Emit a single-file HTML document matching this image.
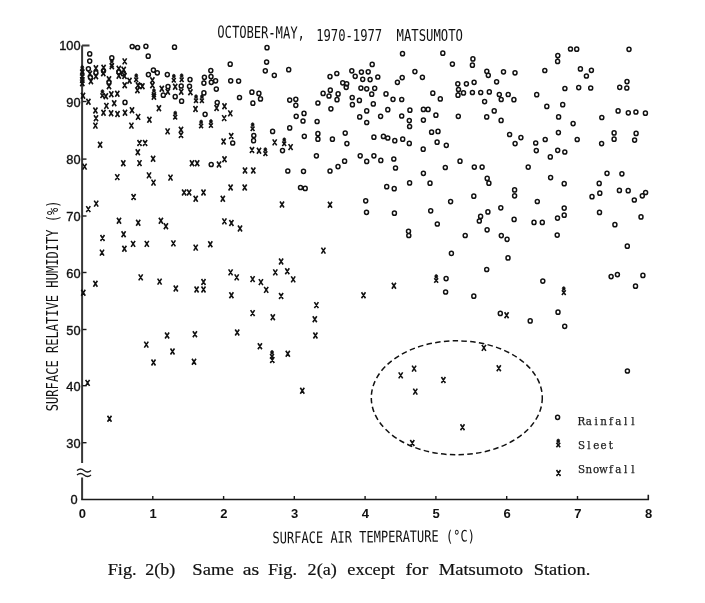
<!DOCTYPE html><html><head><meta charset="utf-8"><title>Fig. 2(b)</title><style>html,body{margin:0;padding:0;background:#fff;width:705px;height:603px;overflow:hidden}svg{display:block}.t{font-family:"Liberation Sans",sans-serif;fill:#111}.d{font-family:"DejaVu Sans Mono",monospace;fill:#111}.m{font-family:"DejaVu Serif",serif;fill:#222}.s{font-family:"Liberation Serif",serif;fill:#111}</style></head><body><svg width="705" height="603" viewBox="0 0 705 603"><g stroke="#1a1a1a" stroke-width="1.6" fill="none"><path d="M82.1 45.5 H89.5 M82.1 45.5 V463 M82.1 477.5 V499.5" stroke="#383838" stroke-width="2"/><path d="M81.2 499.5 H648.3 V494.8"/><path d="M82.5 101.5 h4" stroke-width="1.4"/><path d="M82.5 159.1 h4" stroke-width="1.4"/><path d="M82.5 216.0 h4" stroke-width="1.4"/><path d="M82.5 272.5 h4" stroke-width="1.4"/><path d="M82.5 329.5 h4" stroke-width="1.4"/><path d="M82.5 385.7 h4" stroke-width="1.4"/><path d="M82.5 442.7 h4" stroke-width="1.4"/><path d="M152.8 499.5 v-3.5" stroke-width="1.4"/><path d="M223.6 499.5 v-3.5" stroke-width="1.4"/><path d="M294.3 499.5 v-3.5" stroke-width="1.4"/><path d="M365.1 499.5 v-3.5" stroke-width="1.4"/><path d="M435.9 499.5 v-3.5" stroke-width="1.4"/><path d="M506.7 499.5 v-3.5" stroke-width="1.4"/><path d="M577.5 499.5 v-3.5" stroke-width="1.4"/><path d="M77 470.5 q3.5 -3 7 0 t7 0 M77 475 q3.5 -3 7 0 t7 0" stroke-width="1.3"/></g><text class="t" x="80.6" y="49.8" font-size="12.8" text-anchor="end" stroke="#111" stroke-width="0.35">100</text><text class="t" x="80.6" y="106.5" font-size="12.8" text-anchor="end" stroke="#111" stroke-width="0.35">90</text><text class="t" x="80.6" y="164.1" font-size="12.8" text-anchor="end" stroke="#111" stroke-width="0.35">80</text><text class="t" x="80.6" y="221.0" font-size="12.8" text-anchor="end" stroke="#111" stroke-width="0.35">70</text><text class="t" x="80.6" y="277.5" font-size="12.8" text-anchor="end" stroke="#111" stroke-width="0.35">60</text><text class="t" x="80.6" y="334.5" font-size="12.8" text-anchor="end" stroke="#111" stroke-width="0.35">50</text><text class="t" x="80.6" y="390.7" font-size="12.8" text-anchor="end" stroke="#111" stroke-width="0.35">40</text><text class="t" x="80.6" y="447.7" font-size="12.8" text-anchor="end" stroke="#111" stroke-width="0.35">30</text><text class="t" x="77.6" y="504" font-size="12.8" text-anchor="end" stroke="#111" stroke-width="0.35">0</text><text class="t" x="82.3" y="518.3" font-size="13" font-weight="bold" text-anchor="middle">0</text><text class="t" x="153.1" y="518.3" font-size="13" font-weight="bold" text-anchor="middle">1</text><text class="t" x="223.9" y="518.3" font-size="13" font-weight="bold" text-anchor="middle">2</text><text class="t" x="294.6" y="518.3" font-size="13" font-weight="bold" text-anchor="middle">3</text><text class="t" x="365.4" y="518.3" font-size="13" font-weight="bold" text-anchor="middle">4</text><text class="t" x="436.2" y="518.3" font-size="13" font-weight="bold" text-anchor="middle">5</text><text class="t" x="507.0" y="518.3" font-size="13" font-weight="bold" text-anchor="middle">6</text><text class="t" x="577.8" y="518.3" font-size="13" font-weight="bold" text-anchor="middle">7</text><text class="t" x="648.5" y="518.3" font-size="13" font-weight="bold" text-anchor="middle">8</text><text class="d" x="217.3" y="37.6" font-size="16.5" textLength="87.5" lengthAdjust="spacingAndGlyphs" transform="rotate(0.7 217.5 37.6)">OCTOBER-MAY,</text><text class="d" x="316.2" y="40.5" font-size="16.5" textLength="66" lengthAdjust="spacingAndGlyphs">1970-1977</text><text class="d" x="396.5" y="41.4" font-size="16.5" textLength="66.5" lengthAdjust="spacingAndGlyphs">MATSUMOTO</text><text class="d" transform="translate(57.6 411.2) rotate(-90)" font-size="15.5" textLength="210.8" lengthAdjust="spacingAndGlyphs">SURFACE RELATIVE HUMIDITY (%)</text><text class="d" transform="translate(272.6 543.3) rotate(-0.55)" font-size="15.8" textLength="202.3" lengthAdjust="spacingAndGlyphs">SURFACE AIR TEMPERATURE (°C)</text><text class="m" y="424.9" font-size="10.3" text-anchor="middle" stroke="#222" stroke-width="0.25"><tspan x="581.5">R</tspan><tspan x="588.8">a</tspan><tspan x="596.2">i</tspan><tspan x="603.5">n</tspan><tspan x="610.9">f</tspan><tspan x="618.2">a</tspan><tspan x="625.6">l</tspan><tspan x="632.9">l</tspan></text><text class="m" y="448.8" font-size="10.3" text-anchor="middle" stroke="#222" stroke-width="0.25"><tspan x="581.5">S</tspan><tspan x="588.8">l</tspan><tspan x="596.2">e</tspan><tspan x="603.5">e</tspan><tspan x="610.9">t</tspan></text><text class="m" y="473.2" font-size="10.3" text-anchor="middle" stroke="#222" stroke-width="0.25"><tspan x="581.5">S</tspan><tspan x="588.8">n</tspan><tspan x="596.2">o</tspan><tspan x="603.5">w</tspan><tspan x="610.9">f</tspan><tspan x="618.2">a</tspan><tspan x="625.6">l</tspan><tspan x="632.9">l</tspan></text><text class="s" x="107.7" y="575.2" font-size="17" textLength="28.9" lengthAdjust="spacingAndGlyphs" stroke="#111" stroke-width="0.2">Fig.</text><text class="s" x="145.3" y="575.2" font-size="17" textLength="29.9" lengthAdjust="spacingAndGlyphs" stroke="#111" stroke-width="0.2">2(b)</text><text class="s" x="192.3" y="575.2" font-size="17" textLength="41.4" lengthAdjust="spacingAndGlyphs" stroke="#111" stroke-width="0.2">Same</text><text class="s" x="242.8" y="575.2" font-size="17" textLength="16.4" lengthAdjust="spacingAndGlyphs" stroke="#111" stroke-width="0.2">as</text><text class="s" x="267.9" y="575.2" font-size="17" textLength="29.1" lengthAdjust="spacingAndGlyphs" stroke="#111" stroke-width="0.2">Fig.</text><text class="s" x="307.6" y="575.2" font-size="17" textLength="29.2" lengthAdjust="spacingAndGlyphs" stroke="#111" stroke-width="0.2">2(a)</text><text class="s" x="347.3" y="575.2" font-size="17" textLength="47.6" lengthAdjust="spacingAndGlyphs" stroke="#111" stroke-width="0.2">except</text><text class="s" x="405.4" y="575.2" font-size="17" textLength="22.8" lengthAdjust="spacingAndGlyphs" stroke="#111" stroke-width="0.2">for</text><text class="s" x="438.8" y="575.2" font-size="17" textLength="84.3" lengthAdjust="spacingAndGlyphs" stroke="#111" stroke-width="0.2">Matsumoto</text><text class="s" x="533.7" y="575.2" font-size="17" textLength="56.6" lengthAdjust="spacingAndGlyphs" stroke="#111" stroke-width="0.2">Station.</text><ellipse cx="456.8" cy="397.8" rx="85.5" ry="57" fill="none" stroke="#111" stroke-width="1.5" stroke-dasharray="5.5 3.3"/><path fill="none" stroke="#111" stroke-width="1.6" d="M87.9 70.8L91.9 76.8M91.9 70.8L87.9 76.8M88.9 78.3L92.9 84.3M92.9 78.3L88.9 84.3M93.9 65.3L97.9 71.3M97.9 65.3L93.9 71.3M93.9 73.3L97.9 79.3M97.9 73.3L93.9 79.3M101.6 64.8L105.6 70.8M105.6 64.8L101.6 70.8M101.3 70.3L105.3 76.3M105.3 70.3L101.3 76.3M109.8 63.3L113.8 69.3M113.8 63.3L109.8 69.3M107.0 76.3L111.0 82.3M111.0 76.3L107.0 82.3M107.0 83.2L111.0 89.2M111.0 83.2L107.0 89.2M122.7 58.4L126.7 64.4M126.7 58.4L122.7 64.4M116.8 65.8L120.8 71.8M120.8 65.8L116.8 71.8M116.8 72.8L120.8 78.8M120.8 72.8L116.8 78.8M121.7 66.8L125.7 72.8M125.7 66.8L121.7 72.8M122.5 73.0L126.5 79.0M126.5 73.0L122.5 79.0M122.7 82.2L126.7 88.2M126.7 82.2L122.7 88.2M80.3 69.6L84.3 75.6M84.3 69.6L80.3 75.6M80.3 73.6L84.3 79.6M84.3 73.6L80.3 79.6M80.3 77.0L84.3 83.0M84.3 77.0L80.3 83.0M80.3 80.3L84.3 86.3M84.3 80.3L80.3 86.3M81.0 92.7L85.0 98.7M85.0 92.7L81.0 98.7M103.8 93.2L107.8 99.2M107.8 93.2L103.8 99.2M109.3 91.2L113.3 97.2M113.3 91.2L109.3 97.2M115.3 90.7L119.3 96.7M119.3 90.7L115.3 96.7M109.9 63.0L113.7 67.6M113.7 63.0L109.9 67.6M100.5 93.3L104.3 97.9M104.3 93.3L100.5 97.9M80.4 69.2L84.2 73.8M84.2 69.2L80.4 73.8M127.5 77.8L131.5 83.8M131.5 77.8L127.5 83.8M135.9 82.3L139.9 88.3M139.9 82.3L135.9 88.3M140.4 83.3L144.4 89.3M144.4 83.3L140.4 89.3M135.4 87.2L139.4 93.2M139.4 87.2L135.4 93.2M150.4 77.3L154.4 83.3M154.4 77.3L150.4 83.3M150.4 82.3L154.4 88.3M154.4 82.3L150.4 88.3M151.9 93.7L155.9 99.7M155.9 93.7L151.9 99.7M159.8 85.8L163.8 91.8M163.8 85.8L159.8 91.8M165.8 88.7L169.8 94.7M169.8 88.7L165.8 94.7M173.2 83.8L177.2 89.8M177.2 83.8L173.2 89.8M179.2 88.7L183.2 94.7M183.2 88.7L179.2 94.7M134.3 77.4L138.1 82.0M138.1 77.4L134.3 82.0M152.0 92.3L155.8 96.9M155.8 92.3L152.0 96.9M171.9 77.9L175.7 82.5M175.7 77.9L171.9 82.5M179.8 77.4L183.6 82.0M183.6 77.4L179.8 82.0M188.4 89.2L192.4 95.2M192.4 89.2L188.4 95.2M86.4 98.8L90.4 104.8M90.4 98.8L86.4 104.8M104.4 102.9L108.4 108.9M108.4 102.9L104.4 108.9M112.2 100.2L116.2 106.2M116.2 100.2L112.2 106.2M93.4 107.5L97.4 113.5M97.4 107.5L93.4 113.5M94.0 115.3L98.0 121.3M98.0 115.3L94.0 121.3M93.4 122.6L97.4 128.6M97.4 122.6L93.4 128.6M101.5 109.8L105.5 115.8M105.5 109.8L101.5 115.8M109.1 110.2L113.1 116.2M113.1 110.2L109.1 116.2M115.5 111.0L119.5 117.0M119.5 111.0L115.5 117.0M123.0 109.8L127.0 115.8M127.0 109.8L123.0 115.8M130.0 107.2L134.0 113.2M134.0 107.2L130.0 113.2M136.1 113.9L140.1 119.9M140.1 113.9L136.1 119.9M129.4 122.6L133.4 128.6M133.4 122.6L129.4 128.6M98.1 141.8L102.1 147.8M102.1 141.8L98.1 147.8M137.5 140.0L141.5 146.0M141.5 140.0L137.5 146.0M143.1 140.0L147.1 146.0M147.1 140.0L143.1 146.0M135.8 149.3L139.8 155.3M139.8 149.3L135.8 155.3M121.3 160.3L125.3 166.3M125.3 160.3L121.3 166.3M137.5 160.1L141.5 166.1M141.5 160.1L137.5 166.1M156.9 105.2L160.9 111.2M160.9 105.2L156.9 111.2M193.5 106.0L197.5 112.0M197.5 106.0L193.5 112.0M147.4 116.8L151.4 122.8M151.4 116.8L147.4 122.8M165.6 128.4L169.6 134.4M169.6 128.4L165.6 134.4M179.0 126.7L183.0 132.7M183.0 126.7L179.0 132.7M179.0 132.0L183.0 138.0M183.0 132.0L179.0 138.0M151.1 155.7L155.1 161.7M155.1 155.7L151.1 161.7M190.0 160.3L194.0 166.3M194.0 160.3L190.0 166.3M195.2 160.3L199.2 166.3M199.2 160.3L195.2 166.3M194.1 98.4L197.9 103.0M197.9 98.4L194.1 103.0M200.0 98.4L203.8 103.0M203.8 98.4L200.0 103.0M173.3 114.8L177.1 119.4M177.1 114.8L173.3 119.4M199.2 123.7L203.0 128.3M203.0 123.7L199.2 128.3M209.0 123.2L212.8 127.8M212.8 123.2L209.0 127.8M214.6 105.0L218.6 111.0M218.6 105.0L214.6 111.0M222.5 103.2L226.5 109.2M226.5 103.2L222.5 109.2M228.3 110.4L232.3 116.4M232.3 110.4L228.3 116.4M222.2 115.1L226.2 121.1M226.2 115.1L222.2 121.1M272.7 139.4L276.7 145.4M276.7 139.4L272.7 145.4M229.2 133.0L233.2 139.0M233.2 133.0L229.2 139.0M221.6 138.5L225.6 144.5M225.6 138.5L221.6 144.5M250.0 147.0L254.0 153.0M254.0 147.0L250.0 153.0M257.0 147.8L261.0 153.8M261.0 147.8L257.0 153.8M222.5 156.3L226.5 162.3M226.5 156.3L222.5 162.3M217.0 161.5L221.0 167.5M221.0 161.5L217.0 167.5M250.7 126.4L254.5 131.0M254.5 126.4L250.7 131.0M263.5 151.3L267.3 155.9M267.3 151.3L263.5 155.9M288.6 144.1L292.6 150.1M292.6 144.1L288.6 150.1M282.3 141.5L286.1 146.1M286.1 141.5L282.3 146.1M82.6 163.6L86.6 169.6M86.6 163.6L82.6 169.6M115.3 174.1L119.3 180.1M119.3 174.1L115.3 180.1M147.0 172.4L151.0 178.4M151.0 172.4L147.0 178.4M151.5 179.6L155.5 185.6M155.5 179.6L151.5 185.6M168.5 174.6L172.5 180.6M172.5 174.6L168.5 180.6M131.6 194.0L135.6 200.0M135.6 194.0L131.6 200.0M94.2 200.6L98.2 206.6M98.2 200.6L94.2 206.6M86.3 206.1L90.3 212.1M90.3 206.1L86.3 212.1M117.0 217.7L121.0 223.7M121.0 217.7L117.0 223.7M136.2 219.7L140.2 225.7M140.2 219.7L136.2 225.7M158.9 217.7L162.9 223.7M162.9 217.7L158.9 223.7M163.9 223.3L167.9 229.3M167.9 223.3L163.9 229.3M100.5 235.0L104.5 241.0M104.5 235.0L100.5 241.0M121.6 231.3L125.6 237.3M125.6 231.3L121.6 237.3M131.1 240.9L135.1 246.9M135.1 240.9L131.1 246.9M144.8 240.9L148.8 246.9M148.8 240.9L144.8 246.9M171.4 240.4L175.4 246.4M175.4 240.4L171.4 246.4M122.4 245.7L126.4 251.7M126.4 245.7L122.4 251.7M100.0 249.6L104.0 255.6M104.0 249.6L100.0 255.6M243.0 167.5L247.0 173.5M247.0 167.5L243.0 173.5M251.3 167.5L255.3 173.5M255.3 167.5L251.3 173.5M228.6 184.5L232.6 190.5M232.6 184.5L228.6 190.5M242.7 184.5L246.7 190.5M246.7 184.5L242.7 190.5M182.1 189.5L186.1 195.5M186.1 189.5L182.1 195.5M187.1 189.5L191.1 195.5M191.1 189.5L187.1 195.5M201.5 189.5L205.5 195.5M205.5 189.5L201.5 195.5M193.7 195.7L197.7 201.7M197.7 195.7L193.7 201.7M220.8 195.7L224.8 201.7M224.8 195.7L220.8 201.7M222.4 218.4L226.4 224.4M226.4 218.4L222.4 224.4M229.4 220.0L233.4 226.0M233.4 220.0L229.4 226.0M238.0 225.5L242.0 231.5M242.0 225.5L238.0 231.5M193.7 244.6L197.7 250.6M197.7 244.6L193.7 250.6M208.3 241.3L212.3 247.3M212.3 241.3L208.3 247.3M280.0 201.5L284.0 207.5M284.0 201.5L280.0 207.5M328.0 201.8L332.0 207.8M332.0 201.8L328.0 207.8M321.4 247.6L325.4 253.6M325.4 247.6L321.4 253.6M81.3 289.8L85.3 295.8M85.3 289.8L81.3 295.8M93.4 280.7L97.4 286.7M97.4 280.7L93.4 286.7M138.7 274.4L142.7 280.4M142.7 274.4L138.7 280.4M157.6 278.6L161.6 284.6M161.6 278.6L157.6 284.6M173.8 285.5L177.8 291.5M177.8 285.5L173.8 291.5M165.1 332.5L169.1 338.5M169.1 332.5L165.1 338.5M144.3 341.6L148.3 347.6M148.3 341.6L144.3 347.6M170.5 348.5L174.5 354.5M174.5 348.5L170.5 354.5M228.6 269.4L232.6 275.4M232.6 269.4L228.6 275.4M234.7 274.4L238.7 280.4M238.7 274.4L234.7 280.4M250.6 276.1L254.6 282.1M254.6 276.1L250.6 282.1M258.9 279.1L262.9 285.1M262.9 279.1L258.9 285.1M264.2 286.9L268.2 292.9M268.2 286.9L264.2 292.9M194.6 286.5L198.6 292.5M198.6 286.5L194.6 292.5M201.5 279.0L205.5 285.0M205.5 279.0L201.5 285.0M201.5 286.5L205.5 292.5M205.5 286.5L201.5 292.5M229.4 292.3L233.4 298.3M233.4 292.3L229.4 298.3M250.6 310.1L254.6 316.1M254.6 310.1L250.6 316.1M270.8 314.2L274.8 320.2M274.8 314.2L270.8 320.2M192.9 331.3L196.9 337.3M196.9 331.3L192.9 337.3M235.2 329.5L239.2 335.5M239.2 329.5L235.2 335.5M257.9 343.2L261.9 349.2M261.9 343.2L257.9 349.2M270.1 354.1L273.9 358.7M273.9 354.1L270.1 358.7M279.1 258.5L283.1 264.5M283.1 258.5L279.1 264.5M273.3 269.4L277.3 275.4M277.3 269.4L273.3 275.4M285.3 268.3L289.3 274.3M289.3 268.3L285.3 274.3M291.2 276.4L295.2 282.4M295.2 276.4L291.2 282.4M279.1 293.0L283.1 299.0M283.1 293.0L279.1 299.0M314.4 302.1L318.4 308.1M318.4 302.1L314.4 308.1M312.8 316.2L316.8 322.2M316.8 316.2L312.8 322.2M313.4 332.5L317.4 338.5M317.4 332.5L313.4 338.5M361.5 292.2L365.5 298.2M365.5 292.2L361.5 298.2M285.8 350.7L289.8 356.7M289.8 350.7L285.8 356.7M391.9 282.7L395.9 288.7M395.9 282.7L391.9 288.7M434.3 278.2L438.1 282.8M438.1 278.2L434.3 282.8M504.6 312.2L508.6 318.2M508.6 312.2L504.6 318.2M481.9 344.9L485.9 350.9M485.9 344.9L481.9 350.9M561.9 290.3L565.7 294.9M565.7 290.3L561.9 294.9M151.5 359.5L155.5 365.5M155.5 359.5L151.5 365.5M85.6 379.9L89.6 385.9M89.6 379.9L85.6 385.9M107.5 415.8L111.5 421.8M111.5 415.8L107.5 421.8M192.0 358.8L196.0 364.8M196.0 358.8L192.0 364.8M270.3 357.0L274.3 363.0M274.3 357.0L270.3 363.0M300.3 387.8L304.3 393.8M304.3 387.8L300.3 393.8M398.7 372.4L402.7 378.4M402.7 372.4L398.7 378.4M412.1 365.6L416.1 371.6M416.1 365.6L412.1 371.6M413.3 388.6L417.3 394.6M417.3 388.6L413.3 394.6M410.3 440.0L414.3 446.0M414.3 440.0L410.3 446.0M496.8 365.2L500.8 371.2M500.8 365.2L496.8 371.2M441.4 377.0L445.4 383.0M445.4 377.0L441.4 383.0M460.5 424.3L464.5 430.3M464.5 424.3L460.5 430.3M556.4 442.7L560.2 447.3M560.2 442.7L556.4 447.3M556.5 470.0L560.5 476.0M560.5 470.0L556.5 476.0"/><path fill="none" stroke="#111" stroke-width="1.5" d="M87.7 53.9a2.0 2.1 0 1 0 4.0 0a2.0 2.1 0 1 0 -4.0 0M87.7 61.1a2.0 2.1 0 1 0 4.0 0a2.0 2.1 0 1 0 -4.0 0M86.4 68.8a2.0 2.1 0 1 0 4.0 0a2.0 2.1 0 1 0 -4.0 0M88.4 77.3a2.0 2.1 0 1 0 4.0 0a2.0 2.1 0 1 0 -4.0 0M93.9 72.8a2.0 2.1 0 1 0 4.0 0a2.0 2.1 0 1 0 -4.0 0M101.5 70.8a2.0 2.1 0 1 0 4.0 0a2.0 2.1 0 1 0 -4.0 0M109.8 57.9a2.0 2.1 0 1 0 4.0 0a2.0 2.1 0 1 0 -4.0 0M107.0 82.2a2.0 2.1 0 1 0 4.0 0a2.0 2.1 0 1 0 -4.0 0M116.8 71.8a2.0 2.1 0 1 0 4.0 0a2.0 2.1 0 1 0 -4.0 0M121.2 73.8a2.0 2.1 0 1 0 4.0 0a2.0 2.1 0 1 0 -4.0 0M130.2 46.5a2.0 2.1 0 1 0 4.0 0a2.0 2.1 0 1 0 -4.0 0M135.6 47.5a2.0 2.1 0 1 0 4.0 0a2.0 2.1 0 1 0 -4.0 0M143.9 46.3a2.0 2.1 0 1 0 4.0 0a2.0 2.1 0 1 0 -4.0 0M172.5 47.2a2.0 2.1 0 1 0 4.0 0a2.0 2.1 0 1 0 -4.0 0M146.2 56.2a2.0 2.1 0 1 0 4.0 0a2.0 2.1 0 1 0 -4.0 0M151.4 70.1a2.0 2.1 0 1 0 4.0 0a2.0 2.1 0 1 0 -4.0 0M155.3 72.8a2.0 2.1 0 1 0 4.0 0a2.0 2.1 0 1 0 -4.0 0M146.4 74.6a2.0 2.1 0 1 0 4.0 0a2.0 2.1 0 1 0 -4.0 0M165.3 74.6a2.0 2.1 0 1 0 4.0 0a2.0 2.1 0 1 0 -4.0 0M138.4 85.8a2.0 2.1 0 1 0 4.0 0a2.0 2.1 0 1 0 -4.0 0M166.0 86.6a2.0 2.1 0 1 0 4.0 0a2.0 2.1 0 1 0 -4.0 0M161.3 95.2a2.0 2.1 0 1 0 4.0 0a2.0 2.1 0 1 0 -4.0 0M179.2 86.0a2.0 2.1 0 1 0 4.0 0a2.0 2.1 0 1 0 -4.0 0M173.2 96.7a2.0 2.1 0 1 0 4.0 0a2.0 2.1 0 1 0 -4.0 0M228.2 64.2a2.0 2.1 0 1 0 4.0 0a2.0 2.1 0 1 0 -4.0 0M208.8 70.6a2.0 2.1 0 1 0 4.0 0a2.0 2.1 0 1 0 -4.0 0M209.0 76.6a2.0 2.1 0 1 0 4.0 0a2.0 2.1 0 1 0 -4.0 0M209.3 82.3a2.0 2.1 0 1 0 4.0 0a2.0 2.1 0 1 0 -4.0 0M202.4 77.3a2.0 2.1 0 1 0 4.0 0a2.0 2.1 0 1 0 -4.0 0M201.9 83.1a2.0 2.1 0 1 0 4.0 0a2.0 2.1 0 1 0 -4.0 0M213.6 80.8a2.0 2.1 0 1 0 4.0 0a2.0 2.1 0 1 0 -4.0 0M214.3 89.1a2.0 2.1 0 1 0 4.0 0a2.0 2.1 0 1 0 -4.0 0M188.0 79.6a2.0 2.1 0 1 0 4.0 0a2.0 2.1 0 1 0 -4.0 0M187.5 86.3a2.0 2.1 0 1 0 4.0 0a2.0 2.1 0 1 0 -4.0 0M201.9 92.9a2.0 2.1 0 1 0 4.0 0a2.0 2.1 0 1 0 -4.0 0M228.7 80.8a2.0 2.1 0 1 0 4.0 0a2.0 2.1 0 1 0 -4.0 0M265.0 47.7a2.0 2.1 0 1 0 4.0 0a2.0 2.1 0 1 0 -4.0 0M264.6 62.1a2.0 2.1 0 1 0 4.0 0a2.0 2.1 0 1 0 -4.0 0M263.3 70.8a2.0 2.1 0 1 0 4.0 0a2.0 2.1 0 1 0 -4.0 0M272.3 75.3a2.0 2.1 0 1 0 4.0 0a2.0 2.1 0 1 0 -4.0 0M286.7 69.7a2.0 2.1 0 1 0 4.0 0a2.0 2.1 0 1 0 -4.0 0M236.6 81.1a2.0 2.1 0 1 0 4.0 0a2.0 2.1 0 1 0 -4.0 0M249.9 92.2a2.0 2.1 0 1 0 4.0 0a2.0 2.1 0 1 0 -4.0 0M256.9 93.4a2.0 2.1 0 1 0 4.0 0a2.0 2.1 0 1 0 -4.0 0M237.5 97.5a2.0 2.1 0 1 0 4.0 0a2.0 2.1 0 1 0 -4.0 0M328.0 76.6a2.0 2.1 0 1 0 4.0 0a2.0 2.1 0 1 0 -4.0 0M334.8 73.5a2.0 2.1 0 1 0 4.0 0a2.0 2.1 0 1 0 -4.0 0M340.7 82.8a2.0 2.1 0 1 0 4.0 0a2.0 2.1 0 1 0 -4.0 0M344.7 83.8a2.0 2.1 0 1 0 4.0 0a2.0 2.1 0 1 0 -4.0 0M344.2 87.3a2.0 2.1 0 1 0 4.0 0a2.0 2.1 0 1 0 -4.0 0M328.3 90.2a2.0 2.1 0 1 0 4.0 0a2.0 2.1 0 1 0 -4.0 0M321.1 93.4a2.0 2.1 0 1 0 4.0 0a2.0 2.1 0 1 0 -4.0 0M327.0 96.0a2.0 2.1 0 1 0 4.0 0a2.0 2.1 0 1 0 -4.0 0M336.1 93.9a2.0 2.1 0 1 0 4.0 0a2.0 2.1 0 1 0 -4.0 0M400.5 53.7a2.0 2.1 0 1 0 4.0 0a2.0 2.1 0 1 0 -4.0 0M370.2 64.4a2.0 2.1 0 1 0 4.0 0a2.0 2.1 0 1 0 -4.0 0M349.8 70.8a2.0 2.1 0 1 0 4.0 0a2.0 2.1 0 1 0 -4.0 0M359.4 72.1a2.0 2.1 0 1 0 4.0 0a2.0 2.1 0 1 0 -4.0 0M366.2 71.8a2.0 2.1 0 1 0 4.0 0a2.0 2.1 0 1 0 -4.0 0M353.2 76.3a2.0 2.1 0 1 0 4.0 0a2.0 2.1 0 1 0 -4.0 0M360.7 79.3a2.0 2.1 0 1 0 4.0 0a2.0 2.1 0 1 0 -4.0 0M368.1 79.6a2.0 2.1 0 1 0 4.0 0a2.0 2.1 0 1 0 -4.0 0M375.8 77.0a2.0 2.1 0 1 0 4.0 0a2.0 2.1 0 1 0 -4.0 0M400.2 77.6a2.0 2.1 0 1 0 4.0 0a2.0 2.1 0 1 0 -4.0 0M395.4 82.3a2.0 2.1 0 1 0 4.0 0a2.0 2.1 0 1 0 -4.0 0M358.9 88.1a2.0 2.1 0 1 0 4.0 0a2.0 2.1 0 1 0 -4.0 0M364.7 88.8a2.0 2.1 0 1 0 4.0 0a2.0 2.1 0 1 0 -4.0 0M372.7 88.3a2.0 2.1 0 1 0 4.0 0a2.0 2.1 0 1 0 -4.0 0M369.7 94.2a2.0 2.1 0 1 0 4.0 0a2.0 2.1 0 1 0 -4.0 0M384.0 93.9a2.0 2.1 0 1 0 4.0 0a2.0 2.1 0 1 0 -4.0 0M350.2 97.5a2.0 2.1 0 1 0 4.0 0a2.0 2.1 0 1 0 -4.0 0M440.8 53.2a2.0 2.1 0 1 0 4.0 0a2.0 2.1 0 1 0 -4.0 0M450.4 64.1a2.0 2.1 0 1 0 4.0 0a2.0 2.1 0 1 0 -4.0 0M412.9 71.6a2.0 2.1 0 1 0 4.0 0a2.0 2.1 0 1 0 -4.0 0M420.4 77.3a2.0 2.1 0 1 0 4.0 0a2.0 2.1 0 1 0 -4.0 0M430.8 93.2a2.0 2.1 0 1 0 4.0 0a2.0 2.1 0 1 0 -4.0 0M470.9 58.9a2.0 2.1 0 1 0 4.0 0a2.0 2.1 0 1 0 -4.0 0M470.4 65.2a2.0 2.1 0 1 0 4.0 0a2.0 2.1 0 1 0 -4.0 0M484.8 71.3a2.0 2.1 0 1 0 4.0 0a2.0 2.1 0 1 0 -4.0 0M486.3 75.3a2.0 2.1 0 1 0 4.0 0a2.0 2.1 0 1 0 -4.0 0M501.5 71.8a2.0 2.1 0 1 0 4.0 0a2.0 2.1 0 1 0 -4.0 0M455.8 83.8a2.0 2.1 0 1 0 4.0 0a2.0 2.1 0 1 0 -4.0 0M456.5 89.5a2.0 2.1 0 1 0 4.0 0a2.0 2.1 0 1 0 -4.0 0M456.0 95.2a2.0 2.1 0 1 0 4.0 0a2.0 2.1 0 1 0 -4.0 0M464.4 83.8a2.0 2.1 0 1 0 4.0 0a2.0 2.1 0 1 0 -4.0 0M472.1 82.3a2.0 2.1 0 1 0 4.0 0a2.0 2.1 0 1 0 -4.0 0M494.6 81.8a2.0 2.1 0 1 0 4.0 0a2.0 2.1 0 1 0 -4.0 0M461.5 92.9a2.0 2.1 0 1 0 4.0 0a2.0 2.1 0 1 0 -4.0 0M470.4 92.5a2.0 2.1 0 1 0 4.0 0a2.0 2.1 0 1 0 -4.0 0M478.7 92.5a2.0 2.1 0 1 0 4.0 0a2.0 2.1 0 1 0 -4.0 0M487.3 91.9a2.0 2.1 0 1 0 4.0 0a2.0 2.1 0 1 0 -4.0 0M497.3 94.5a2.0 2.1 0 1 0 4.0 0a2.0 2.1 0 1 0 -4.0 0M506.2 94.5a2.0 2.1 0 1 0 4.0 0a2.0 2.1 0 1 0 -4.0 0M513.0 72.8a2.0 2.1 0 1 0 4.0 0a2.0 2.1 0 1 0 -4.0 0M542.8 70.5a2.0 2.1 0 1 0 4.0 0a2.0 2.1 0 1 0 -4.0 0M555.8 55.6a2.0 2.1 0 1 0 4.0 0a2.0 2.1 0 1 0 -4.0 0M555.6 61.4a2.0 2.1 0 1 0 4.0 0a2.0 2.1 0 1 0 -4.0 0M562.9 88.5a2.0 2.1 0 1 0 4.0 0a2.0 2.1 0 1 0 -4.0 0M534.7 94.7a2.0 2.1 0 1 0 4.0 0a2.0 2.1 0 1 0 -4.0 0M568.5 49.0a2.0 2.1 0 1 0 4.0 0a2.0 2.1 0 1 0 -4.0 0M574.7 49.2a2.0 2.1 0 1 0 4.0 0a2.0 2.1 0 1 0 -4.0 0M578.4 68.9a2.0 2.1 0 1 0 4.0 0a2.0 2.1 0 1 0 -4.0 0M589.4 70.3a2.0 2.1 0 1 0 4.0 0a2.0 2.1 0 1 0 -4.0 0M584.4 76.0a2.0 2.1 0 1 0 4.0 0a2.0 2.1 0 1 0 -4.0 0M576.7 87.6a2.0 2.1 0 1 0 4.0 0a2.0 2.1 0 1 0 -4.0 0M588.7 88.0a2.0 2.1 0 1 0 4.0 0a2.0 2.1 0 1 0 -4.0 0M617.7 87.3a2.0 2.1 0 1 0 4.0 0a2.0 2.1 0 1 0 -4.0 0M627.0 49.3a2.0 2.1 0 1 0 4.0 0a2.0 2.1 0 1 0 -4.0 0M625.0 81.6a2.0 2.1 0 1 0 4.0 0a2.0 2.1 0 1 0 -4.0 0M624.8 88.0a2.0 2.1 0 1 0 4.0 0a2.0 2.1 0 1 0 -4.0 0M123.0 102.4a2.0 2.1 0 1 0 4.0 0a2.0 2.1 0 1 0 -4.0 0M179.6 101.2a2.0 2.1 0 1 0 4.0 0a2.0 2.1 0 1 0 -4.0 0M203.1 114.3a2.0 2.1 0 1 0 4.0 0a2.0 2.1 0 1 0 -4.0 0M209.2 164.5a2.0 2.1 0 1 0 4.0 0a2.0 2.1 0 1 0 -4.0 0M258.5 98.9a2.0 2.1 0 1 0 4.0 0a2.0 2.1 0 1 0 -4.0 0M250.9 103.2a2.0 2.1 0 1 0 4.0 0a2.0 2.1 0 1 0 -4.0 0M215.2 102.5a2.0 2.1 0 1 0 4.0 0a2.0 2.1 0 1 0 -4.0 0M251.8 135.5a2.0 2.1 0 1 0 4.0 0a2.0 2.1 0 1 0 -4.0 0M251.6 140.7a2.0 2.1 0 1 0 4.0 0a2.0 2.1 0 1 0 -4.0 0M270.6 131.4a2.0 2.1 0 1 0 4.0 0a2.0 2.1 0 1 0 -4.0 0M230.7 143.0a2.0 2.1 0 1 0 4.0 0a2.0 2.1 0 1 0 -4.0 0M287.7 100.1a2.0 2.1 0 1 0 4.0 0a2.0 2.1 0 1 0 -4.0 0M293.8 99.3a2.0 2.1 0 1 0 4.0 0a2.0 2.1 0 1 0 -4.0 0M293.8 105.3a2.0 2.1 0 1 0 4.0 0a2.0 2.1 0 1 0 -4.0 0M315.9 103.0a2.0 2.1 0 1 0 4.0 0a2.0 2.1 0 1 0 -4.0 0M335.0 99.7a2.0 2.1 0 1 0 4.0 0a2.0 2.1 0 1 0 -4.0 0M328.9 108.8a2.0 2.1 0 1 0 4.0 0a2.0 2.1 0 1 0 -4.0 0M302.0 113.4a2.0 2.1 0 1 0 4.0 0a2.0 2.1 0 1 0 -4.0 0M294.2 116.3a2.0 2.1 0 1 0 4.0 0a2.0 2.1 0 1 0 -4.0 0M301.0 121.0a2.0 2.1 0 1 0 4.0 0a2.0 2.1 0 1 0 -4.0 0M315.1 121.5a2.0 2.1 0 1 0 4.0 0a2.0 2.1 0 1 0 -4.0 0M287.7 127.9a2.0 2.1 0 1 0 4.0 0a2.0 2.1 0 1 0 -4.0 0M302.3 136.3a2.0 2.1 0 1 0 4.0 0a2.0 2.1 0 1 0 -4.0 0M315.9 133.7a2.0 2.1 0 1 0 4.0 0a2.0 2.1 0 1 0 -4.0 0M315.9 139.2a2.0 2.1 0 1 0 4.0 0a2.0 2.1 0 1 0 -4.0 0M330.4 139.2a2.0 2.1 0 1 0 4.0 0a2.0 2.1 0 1 0 -4.0 0M343.2 133.1a2.0 2.1 0 1 0 4.0 0a2.0 2.1 0 1 0 -4.0 0M344.9 143.6a2.0 2.1 0 1 0 4.0 0a2.0 2.1 0 1 0 -4.0 0M280.5 150.6a2.0 2.1 0 1 0 4.0 0a2.0 2.1 0 1 0 -4.0 0M314.4 155.8a2.0 2.1 0 1 0 4.0 0a2.0 2.1 0 1 0 -4.0 0M342.6 161.2a2.0 2.1 0 1 0 4.0 0a2.0 2.1 0 1 0 -4.0 0M357.4 100.4a2.0 2.1 0 1 0 4.0 0a2.0 2.1 0 1 0 -4.0 0M350.4 104.7a2.0 2.1 0 1 0 4.0 0a2.0 2.1 0 1 0 -4.0 0M371.3 103.9a2.0 2.1 0 1 0 4.0 0a2.0 2.1 0 1 0 -4.0 0M391.0 99.3a2.0 2.1 0 1 0 4.0 0a2.0 2.1 0 1 0 -4.0 0M399.7 99.5a2.0 2.1 0 1 0 4.0 0a2.0 2.1 0 1 0 -4.0 0M364.7 110.9a2.0 2.1 0 1 0 4.0 0a2.0 2.1 0 1 0 -4.0 0M385.8 109.7a2.0 2.1 0 1 0 4.0 0a2.0 2.1 0 1 0 -4.0 0M407.9 110.2a2.0 2.1 0 1 0 4.0 0a2.0 2.1 0 1 0 -4.0 0M357.7 116.9a2.0 2.1 0 1 0 4.0 0a2.0 2.1 0 1 0 -4.0 0M378.6 116.3a2.0 2.1 0 1 0 4.0 0a2.0 2.1 0 1 0 -4.0 0M399.7 116.0a2.0 2.1 0 1 0 4.0 0a2.0 2.1 0 1 0 -4.0 0M407.3 120.6a2.0 2.1 0 1 0 4.0 0a2.0 2.1 0 1 0 -4.0 0M407.6 126.5a2.0 2.1 0 1 0 4.0 0a2.0 2.1 0 1 0 -4.0 0M364.7 122.5a2.0 2.1 0 1 0 4.0 0a2.0 2.1 0 1 0 -4.0 0M371.9 137.2a2.0 2.1 0 1 0 4.0 0a2.0 2.1 0 1 0 -4.0 0M381.4 136.4a2.0 2.1 0 1 0 4.0 0a2.0 2.1 0 1 0 -4.0 0M385.8 138.0a2.0 2.1 0 1 0 4.0 0a2.0 2.1 0 1 0 -4.0 0M392.8 140.7a2.0 2.1 0 1 0 4.0 0a2.0 2.1 0 1 0 -4.0 0M400.7 139.2a2.0 2.1 0 1 0 4.0 0a2.0 2.1 0 1 0 -4.0 0M407.3 143.4a2.0 2.1 0 1 0 4.0 0a2.0 2.1 0 1 0 -4.0 0M358.2 155.8a2.0 2.1 0 1 0 4.0 0a2.0 2.1 0 1 0 -4.0 0M371.9 155.8a2.0 2.1 0 1 0 4.0 0a2.0 2.1 0 1 0 -4.0 0M364.7 161.4a2.0 2.1 0 1 0 4.0 0a2.0 2.1 0 1 0 -4.0 0M378.8 160.4a2.0 2.1 0 1 0 4.0 0a2.0 2.1 0 1 0 -4.0 0M391.8 159.0a2.0 2.1 0 1 0 4.0 0a2.0 2.1 0 1 0 -4.0 0M438.3 98.9a2.0 2.1 0 1 0 4.0 0a2.0 2.1 0 1 0 -4.0 0M421.4 109.4a2.0 2.1 0 1 0 4.0 0a2.0 2.1 0 1 0 -4.0 0M426.1 109.4a2.0 2.1 0 1 0 4.0 0a2.0 2.1 0 1 0 -4.0 0M433.9 115.2a2.0 2.1 0 1 0 4.0 0a2.0 2.1 0 1 0 -4.0 0M421.4 120.1a2.0 2.1 0 1 0 4.0 0a2.0 2.1 0 1 0 -4.0 0M456.3 116.3a2.0 2.1 0 1 0 4.0 0a2.0 2.1 0 1 0 -4.0 0M429.6 132.2a2.0 2.1 0 1 0 4.0 0a2.0 2.1 0 1 0 -4.0 0M436.0 131.4a2.0 2.1 0 1 0 4.0 0a2.0 2.1 0 1 0 -4.0 0M435.1 142.2a2.0 2.1 0 1 0 4.0 0a2.0 2.1 0 1 0 -4.0 0M444.3 145.3a2.0 2.1 0 1 0 4.0 0a2.0 2.1 0 1 0 -4.0 0M421.2 149.2a2.0 2.1 0 1 0 4.0 0a2.0 2.1 0 1 0 -4.0 0M458.0 161.2a2.0 2.1 0 1 0 4.0 0a2.0 2.1 0 1 0 -4.0 0M482.6 101.6a2.0 2.1 0 1 0 4.0 0a2.0 2.1 0 1 0 -4.0 0M499.2 99.5a2.0 2.1 0 1 0 4.0 0a2.0 2.1 0 1 0 -4.0 0M511.9 99.7a2.0 2.1 0 1 0 4.0 0a2.0 2.1 0 1 0 -4.0 0M544.8 106.4a2.0 2.1 0 1 0 4.0 0a2.0 2.1 0 1 0 -4.0 0M492.2 110.9a2.0 2.1 0 1 0 4.0 0a2.0 2.1 0 1 0 -4.0 0M484.7 116.9a2.0 2.1 0 1 0 4.0 0a2.0 2.1 0 1 0 -4.0 0M499.1 120.4a2.0 2.1 0 1 0 4.0 0a2.0 2.1 0 1 0 -4.0 0M507.6 134.5a2.0 2.1 0 1 0 4.0 0a2.0 2.1 0 1 0 -4.0 0M518.9 137.6a2.0 2.1 0 1 0 4.0 0a2.0 2.1 0 1 0 -4.0 0M513.1 143.6a2.0 2.1 0 1 0 4.0 0a2.0 2.1 0 1 0 -4.0 0M533.7 143.0a2.0 2.1 0 1 0 4.0 0a2.0 2.1 0 1 0 -4.0 0M534.3 150.6a2.0 2.1 0 1 0 4.0 0a2.0 2.1 0 1 0 -4.0 0M543.2 139.5a2.0 2.1 0 1 0 4.0 0a2.0 2.1 0 1 0 -4.0 0M560.7 104.7a2.0 2.1 0 1 0 4.0 0a2.0 2.1 0 1 0 -4.0 0M556.6 116.9a2.0 2.1 0 1 0 4.0 0a2.0 2.1 0 1 0 -4.0 0M571.1 123.6a2.0 2.1 0 1 0 4.0 0a2.0 2.1 0 1 0 -4.0 0M556.4 132.6a2.0 2.1 0 1 0 4.0 0a2.0 2.1 0 1 0 -4.0 0M575.2 139.5a2.0 2.1 0 1 0 4.0 0a2.0 2.1 0 1 0 -4.0 0M555.7 150.3a2.0 2.1 0 1 0 4.0 0a2.0 2.1 0 1 0 -4.0 0M562.8 152.0a2.0 2.1 0 1 0 4.0 0a2.0 2.1 0 1 0 -4.0 0M548.3 156.9a2.0 2.1 0 1 0 4.0 0a2.0 2.1 0 1 0 -4.0 0M599.8 117.5a2.0 2.1 0 1 0 4.0 0a2.0 2.1 0 1 0 -4.0 0M612.1 132.9a2.0 2.1 0 1 0 4.0 0a2.0 2.1 0 1 0 -4.0 0M612.1 139.2a2.0 2.1 0 1 0 4.0 0a2.0 2.1 0 1 0 -4.0 0M599.6 143.6a2.0 2.1 0 1 0 4.0 0a2.0 2.1 0 1 0 -4.0 0M616.1 110.9a2.0 2.1 0 1 0 4.0 0a2.0 2.1 0 1 0 -4.0 0M626.3 112.8a2.0 2.1 0 1 0 4.0 0a2.0 2.1 0 1 0 -4.0 0M633.9 112.0a2.0 2.1 0 1 0 4.0 0a2.0 2.1 0 1 0 -4.0 0M643.4 113.2a2.0 2.1 0 1 0 4.0 0a2.0 2.1 0 1 0 -4.0 0M634.1 133.4a2.0 2.1 0 1 0 4.0 0a2.0 2.1 0 1 0 -4.0 0M632.6 140.1a2.0 2.1 0 1 0 4.0 0a2.0 2.1 0 1 0 -4.0 0M285.8 171.0a2.0 2.1 0 1 0 4.0 0a2.0 2.1 0 1 0 -4.0 0M301.5 171.3a2.0 2.1 0 1 0 4.0 0a2.0 2.1 0 1 0 -4.0 0M328.0 171.0a2.0 2.1 0 1 0 4.0 0a2.0 2.1 0 1 0 -4.0 0M336.0 166.6a2.0 2.1 0 1 0 4.0 0a2.0 2.1 0 1 0 -4.0 0M298.5 187.5a2.0 2.1 0 1 0 4.0 0a2.0 2.1 0 1 0 -4.0 0M303.2 188.4a2.0 2.1 0 1 0 4.0 0a2.0 2.1 0 1 0 -4.0 0M363.7 200.8a2.0 2.1 0 1 0 4.0 0a2.0 2.1 0 1 0 -4.0 0M364.5 212.3a2.0 2.1 0 1 0 4.0 0a2.0 2.1 0 1 0 -4.0 0M393.5 168.0a2.0 2.1 0 1 0 4.0 0a2.0 2.1 0 1 0 -4.0 0M421.4 173.3a2.0 2.1 0 1 0 4.0 0a2.0 2.1 0 1 0 -4.0 0M443.3 167.5a2.0 2.1 0 1 0 4.0 0a2.0 2.1 0 1 0 -4.0 0M407.6 182.9a2.0 2.1 0 1 0 4.0 0a2.0 2.1 0 1 0 -4.0 0M428.0 183.2a2.0 2.1 0 1 0 4.0 0a2.0 2.1 0 1 0 -4.0 0M384.7 186.7a2.0 2.1 0 1 0 4.0 0a2.0 2.1 0 1 0 -4.0 0M392.2 188.7a2.0 2.1 0 1 0 4.0 0a2.0 2.1 0 1 0 -4.0 0M448.6 201.6a2.0 2.1 0 1 0 4.0 0a2.0 2.1 0 1 0 -4.0 0M392.4 213.2a2.0 2.1 0 1 0 4.0 0a2.0 2.1 0 1 0 -4.0 0M428.7 210.8a2.0 2.1 0 1 0 4.0 0a2.0 2.1 0 1 0 -4.0 0M435.3 224.0a2.0 2.1 0 1 0 4.0 0a2.0 2.1 0 1 0 -4.0 0M406.5 231.3a2.0 2.1 0 1 0 4.0 0a2.0 2.1 0 1 0 -4.0 0M406.8 235.5a2.0 2.1 0 1 0 4.0 0a2.0 2.1 0 1 0 -4.0 0M463.2 235.5a2.0 2.1 0 1 0 4.0 0a2.0 2.1 0 1 0 -4.0 0M449.4 253.4a2.0 2.1 0 1 0 4.0 0a2.0 2.1 0 1 0 -4.0 0M472.3 167.1a2.0 2.1 0 1 0 4.0 0a2.0 2.1 0 1 0 -4.0 0M480.1 167.1a2.0 2.1 0 1 0 4.0 0a2.0 2.1 0 1 0 -4.0 0M526.2 167.1a2.0 2.1 0 1 0 4.0 0a2.0 2.1 0 1 0 -4.0 0M548.6 177.6a2.0 2.1 0 1 0 4.0 0a2.0 2.1 0 1 0 -4.0 0M562.2 183.7a2.0 2.1 0 1 0 4.0 0a2.0 2.1 0 1 0 -4.0 0M485.2 178.4a2.0 2.1 0 1 0 4.0 0a2.0 2.1 0 1 0 -4.0 0M486.9 183.2a2.0 2.1 0 1 0 4.0 0a2.0 2.1 0 1 0 -4.0 0M512.6 189.9a2.0 2.1 0 1 0 4.0 0a2.0 2.1 0 1 0 -4.0 0M512.6 195.8a2.0 2.1 0 1 0 4.0 0a2.0 2.1 0 1 0 -4.0 0M471.8 196.2a2.0 2.1 0 1 0 4.0 0a2.0 2.1 0 1 0 -4.0 0M535.3 201.5a2.0 2.1 0 1 0 4.0 0a2.0 2.1 0 1 0 -4.0 0M498.8 207.8a2.0 2.1 0 1 0 4.0 0a2.0 2.1 0 1 0 -4.0 0M485.9 211.9a2.0 2.1 0 1 0 4.0 0a2.0 2.1 0 1 0 -4.0 0M478.6 216.4a2.0 2.1 0 1 0 4.0 0a2.0 2.1 0 1 0 -4.0 0M477.3 221.0a2.0 2.1 0 1 0 4.0 0a2.0 2.1 0 1 0 -4.0 0M512.1 219.4a2.0 2.1 0 1 0 4.0 0a2.0 2.1 0 1 0 -4.0 0M532.0 222.4a2.0 2.1 0 1 0 4.0 0a2.0 2.1 0 1 0 -4.0 0M540.3 222.4a2.0 2.1 0 1 0 4.0 0a2.0 2.1 0 1 0 -4.0 0M555.5 218.1a2.0 2.1 0 1 0 4.0 0a2.0 2.1 0 1 0 -4.0 0M562.2 208.1a2.0 2.1 0 1 0 4.0 0a2.0 2.1 0 1 0 -4.0 0M562.2 215.2a2.0 2.1 0 1 0 4.0 0a2.0 2.1 0 1 0 -4.0 0M485.1 229.8a2.0 2.1 0 1 0 4.0 0a2.0 2.1 0 1 0 -4.0 0M499.3 235.6a2.0 2.1 0 1 0 4.0 0a2.0 2.1 0 1 0 -4.0 0M505.1 239.3a2.0 2.1 0 1 0 4.0 0a2.0 2.1 0 1 0 -4.0 0M555.2 235.1a2.0 2.1 0 1 0 4.0 0a2.0 2.1 0 1 0 -4.0 0M506.0 257.9a2.0 2.1 0 1 0 4.0 0a2.0 2.1 0 1 0 -4.0 0M605.0 173.3a2.0 2.1 0 1 0 4.0 0a2.0 2.1 0 1 0 -4.0 0M619.9 173.8a2.0 2.1 0 1 0 4.0 0a2.0 2.1 0 1 0 -4.0 0M597.2 183.4a2.0 2.1 0 1 0 4.0 0a2.0 2.1 0 1 0 -4.0 0M597.8 193.2a2.0 2.1 0 1 0 4.0 0a2.0 2.1 0 1 0 -4.0 0M590.0 196.7a2.0 2.1 0 1 0 4.0 0a2.0 2.1 0 1 0 -4.0 0M617.4 190.4a2.0 2.1 0 1 0 4.0 0a2.0 2.1 0 1 0 -4.0 0M626.2 190.7a2.0 2.1 0 1 0 4.0 0a2.0 2.1 0 1 0 -4.0 0M643.6 192.5a2.0 2.1 0 1 0 4.0 0a2.0 2.1 0 1 0 -4.0 0M640.3 195.8a2.0 2.1 0 1 0 4.0 0a2.0 2.1 0 1 0 -4.0 0M632.3 200.0a2.0 2.1 0 1 0 4.0 0a2.0 2.1 0 1 0 -4.0 0M597.5 212.4a2.0 2.1 0 1 0 4.0 0a2.0 2.1 0 1 0 -4.0 0M639.0 216.9a2.0 2.1 0 1 0 4.0 0a2.0 2.1 0 1 0 -4.0 0M612.9 224.7a2.0 2.1 0 1 0 4.0 0a2.0 2.1 0 1 0 -4.0 0M625.3 246.2a2.0 2.1 0 1 0 4.0 0a2.0 2.1 0 1 0 -4.0 0M444.1 278.6a2.0 2.1 0 1 0 4.0 0a2.0 2.1 0 1 0 -4.0 0M443.6 292.0a2.0 2.1 0 1 0 4.0 0a2.0 2.1 0 1 0 -4.0 0M484.7 269.5a2.0 2.1 0 1 0 4.0 0a2.0 2.1 0 1 0 -4.0 0M540.8 281.1a2.0 2.1 0 1 0 4.0 0a2.0 2.1 0 1 0 -4.0 0M471.8 296.2a2.0 2.1 0 1 0 4.0 0a2.0 2.1 0 1 0 -4.0 0M498.3 313.4a2.0 2.1 0 1 0 4.0 0a2.0 2.1 0 1 0 -4.0 0M528.2 320.9a2.0 2.1 0 1 0 4.0 0a2.0 2.1 0 1 0 -4.0 0M556.0 312.2a2.0 2.1 0 1 0 4.0 0a2.0 2.1 0 1 0 -4.0 0M562.7 326.3a2.0 2.1 0 1 0 4.0 0a2.0 2.1 0 1 0 -4.0 0M609.1 276.6a2.0 2.1 0 1 0 4.0 0a2.0 2.1 0 1 0 -4.0 0M615.4 274.6a2.0 2.1 0 1 0 4.0 0a2.0 2.1 0 1 0 -4.0 0M640.9 275.4a2.0 2.1 0 1 0 4.0 0a2.0 2.1 0 1 0 -4.0 0M633.5 286.2a2.0 2.1 0 1 0 4.0 0a2.0 2.1 0 1 0 -4.0 0M625.4 371.0a2.0 2.1 0 1 0 4.0 0a2.0 2.1 0 1 0 -4.0 0M555.6 417.3a2.0 2.1 0 1 0 4.0 0a2.0 2.1 0 1 0 -4.0 0"/><path fill="#111" stroke="#111" stroke-width="0.7" d="M110.3 61.2a1.45 1.85 0 1 0 2.9 0a1.45 1.85 0 1 0 -2.9 0M101.0 91.5a1.45 1.85 0 1 0 2.9 0a1.45 1.85 0 1 0 -2.9 0M80.8 67.4a1.45 1.85 0 1 0 2.9 0a1.45 1.85 0 1 0 -2.9 0M134.8 75.6a1.45 1.85 0 1 0 2.9 0a1.45 1.85 0 1 0 -2.9 0M152.5 90.5a1.45 1.85 0 1 0 2.9 0a1.45 1.85 0 1 0 -2.9 0M172.4 76.1a1.45 1.85 0 1 0 2.9 0a1.45 1.85 0 1 0 -2.9 0M180.2 75.6a1.45 1.85 0 1 0 2.9 0a1.45 1.85 0 1 0 -2.9 0M194.6 96.6a1.45 1.85 0 1 0 2.9 0a1.45 1.85 0 1 0 -2.9 0M200.5 96.6a1.45 1.85 0 1 0 2.9 0a1.45 1.85 0 1 0 -2.9 0M173.8 113.0a1.45 1.85 0 1 0 2.9 0a1.45 1.85 0 1 0 -2.9 0M199.7 121.9a1.45 1.85 0 1 0 2.9 0a1.45 1.85 0 1 0 -2.9 0M209.5 121.4a1.45 1.85 0 1 0 2.9 0a1.45 1.85 0 1 0 -2.9 0M251.2 124.6a1.45 1.85 0 1 0 2.9 0a1.45 1.85 0 1 0 -2.9 0M263.9 149.5a1.45 1.85 0 1 0 2.9 0a1.45 1.85 0 1 0 -2.9 0M282.8 139.7a1.45 1.85 0 1 0 2.9 0a1.45 1.85 0 1 0 -2.9 0M270.6 352.3a1.45 1.85 0 1 0 2.9 0a1.45 1.85 0 1 0 -2.9 0M434.8 276.4a1.45 1.85 0 1 0 2.9 0a1.45 1.85 0 1 0 -2.9 0M562.3 288.5a1.45 1.85 0 1 0 2.9 0a1.45 1.85 0 1 0 -2.9 0M556.8 440.9a1.45 1.85 0 1 0 2.9 0a1.45 1.85 0 1 0 -2.9 0"/></svg></body></html>
